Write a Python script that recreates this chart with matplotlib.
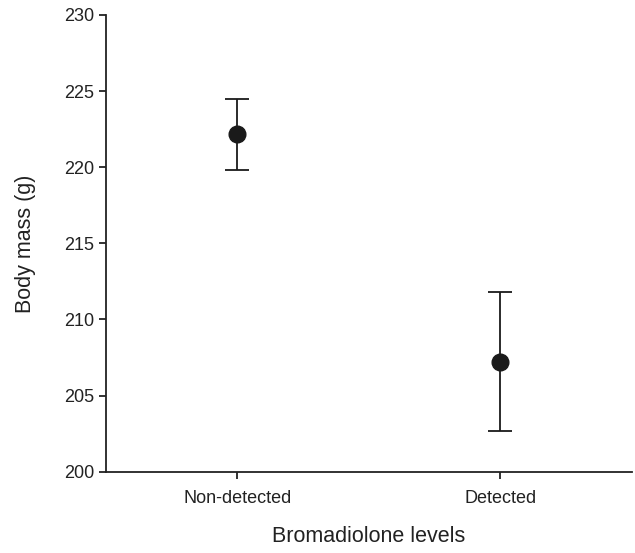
import matplotlib
matplotlib.use("Agg")
import matplotlib.pyplot as plt

groups = ["Non-detected", "Detected"]
means = [222.2, 207.2]
upper = [224.45, 211.8]
lower = [219.8, 202.65]

plt.rcParams["font.family"] = ["Liberation Sans", "DejaVu Sans"]

fig = plt.figure(figsize=(6.35, 5.53), dpi=100)
ax = fig.add_axes([0.167, 0.147, 0.828, 0.826])

xpos = [1, 2]
yerr = [[m - lo for m, lo in zip(means, lower)], [up - m for m, up in zip(means, upper)]]
ax.errorbar(xpos, means, yerr=yerr, fmt="o", color="#1a1a1a", markersize=12,
            capsize=8.5, elinewidth=1.3, capthick=1.3)

ax.set_xlim(0.5, 2.5)
ax.set_ylim(200, 230)
ax.set_yticks(range(200, 231, 5))
ax.set_xticks(xpos)
ax.set_xticklabels(groups)
ax.tick_params(labelsize=13, length=5, width=1.3, color="#222222", labelcolor="#222222")
ax.tick_params(axis="x", pad=8)
ax.spines["top"].set_visible(False)
ax.spines["right"].set_visible(False)
for s in ["left", "bottom"]:
    ax.spines[s].set_linewidth(1.3)
    ax.spines[s].set_color("#222222")

ax.set_xlabel("Bromadiolone levels", fontsize=15.5, labelpad=14, color="#222222")
ax.set_ylabel("Body mass (g)", fontsize=15.5, labelpad=20, color="#222222")

plt.savefig("out.png", dpi=100)
